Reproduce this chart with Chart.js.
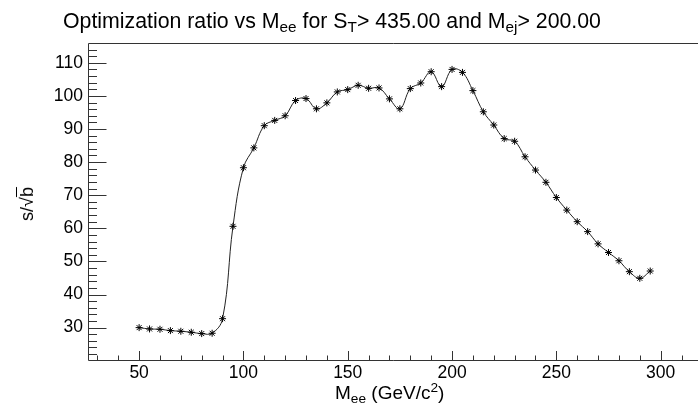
<!DOCTYPE html>
<html>
<head>
<meta charset="utf-8">
<script src="https://cdn.jsdelivr.net/npm/chart.js@4/dist/chart.umd.min.js"></script>
<style>
  html, body { margin: 0; padding: 0; background: #fff; overflow: hidden; }
  #wrap { position: relative; width: 698px; height: 409px; font-family: "Liberation Sans", Arial, sans-serif; color: #000; }
  #wrap canvas { position: absolute; left: 0; top: 0; }
  .lbl { position: absolute; white-space: nowrap; line-height: 1; }
  .lbl sub { font-size: 72%; vertical-align: -0.28em; line-height: 0; }
  .lbl sup { font-size: 72%; vertical-align: 0.5em; line-height: 0; }
  #title { left: 63px; top: 11px; font-size: 21.3px; }
  #ytitle { left: 27px; top: 204px; font-size: 18px; transform: translate(-50%, -50%) rotate(-90deg); }
  #xtitle { left: 335px; top: 383px; font-size: 19px; }
  .ovl { text-decoration: overline; }
</style>
</head>
<body>
<div id="wrap">
  <canvas id="c" width="698" height="409"></canvas>
  <div class="lbl" id="title">Optimization ratio vs M<sub>ee</sub> for S<sub>T</sub>&gt; 435.00 and M<sub>ej</sub>&gt; 200.00</div>
  <div class="lbl" id="ytitle">s/√<span class="ovl">b</span></div>
  <div class="lbl" id="xtitle">M<sub>ee</sub> (GeV/c<sup>2</sup>)</div>
</div>
<script>
// M_ee cut values (GeV/c^2)
const mee = [50, 55, 60, 65, 70, 75, 80, 85, 90, 95,
             100, 105, 110, 115, 120, 125, 130, 135, 140, 145,
             150, 155, 160, 165, 170, 175, 180, 185, 190, 195,
             200, 205, 210, 215, 220, 225, 230, 235, 240, 245,
             250, 255, 260, 265, 270, 275, 280, 285, 290, 295];
// s/sqrt(b)
const ratio = [30.0, 29.6, 29.5, 29.1, 28.9, 28.6, 28.2, 28.3, 32.7, 60.6,
               78.3, 84.3, 91.0, 92.6, 94.0, 98.6, 99.2, 96.1, 97.9, 101.2,
               101.9, 103.2, 102.3, 102.4, 99.1, 96.1, 102.2, 103.9, 107.3, 102.8,
               108.0, 107.1, 101.6, 95.2, 91.2, 87.1, 86.3, 81.6, 77.6, 73.9,
               69.3, 65.5, 62.0, 59.0, 55.3, 52.7, 50.2, 46.9, 44.9, 47.1];

const xTicks = [50, 100, 150, 200, 250, 300];
const yTicks = [30, 40, 50, 60, 70, 80, 90, 100, 110];
const xMinorStep = 10;
const yMinorStep = 2;

// ROOT-like frame with ticks drawn inside the pad
const rootFrame = {
  id: "rootFrame",
  afterDatasetsDraw(chart){
    const { ctx, chartArea: a, scales: { x, y } } = chart;
    ctx.save();
    ctx.strokeStyle = "#333";
    ctx.lineWidth = 1;
    ctx.beginPath();
    ctx.moveTo(a.right + 10, a.top + 0.5);
    ctx.lineTo(a.left + 0.5, a.top + 0.5);
    ctx.lineTo(a.left + 0.5, a.bottom + 0.5);
    ctx.lineTo(a.right + 10, a.bottom + 0.5);
    ctx.stroke();

    ctx.beginPath();
    for (let v = Math.ceil(x.min / xMinorStep) * xMinorStep; v <= x.max; v += xMinorStep){
      const px = Math.round(x.getPixelForValue(v)) + 0.5;
      const len = xTicks.includes(v) ? 9 : 4.5;
      ctx.moveTo(px, a.bottom);
      ctx.lineTo(px, a.bottom - len);
    }
    for (let v = Math.ceil(y.min / yMinorStep) * yMinorStep; v <= y.max; v += yMinorStep){
      const py = Math.round(y.getPixelForValue(v)) + 0.5;
      const len = yTicks.includes(v) ? 18.5 : 9;
      ctx.moveTo(a.left, py);
      ctx.lineTo(a.left + len, py);
    }
    ctx.stroke();
    ctx.restore();
  }
};

const tickFont = { family: "Liberation Sans", size: 17.5 };

new Chart(document.getElementById("c").getContext("2d"), {
  type: "line",
  data: {
    datasets: [{
      data: mee.map((m, i) => ({ x: m, y: ratio[i] })),
      borderColor: "#222",
      borderWidth: 1,
      tension: 0.4,
      pointStyle: "star",
      pointRadius: 3.5,
      pointBorderColor: "#000",
      pointBorderWidth: 1,
      pointBackgroundColor: "#000",
      fill: false
    }]
  },
  options: {
    responsive: false,
    animation: false,
    layout: { padding: { top: 43, right: 0, left: 0, bottom: 0 } },
    plugins: { legend: { display: false }, tooltip: { enabled: false }, title: { display: false } },
    scales: {
      x: {
        type: "linear",
        min: 25.5,
        max: 315.5,
        afterFit: s => { s.height = 49; },
        afterBuildTicks: s => { s.ticks = xTicks.map(v => ({ value: v })); },
        grid: { display: false, drawTicks: false },
        border: { display: false },
        ticks: { font: tickFont, color: "#000", padding: 3, maxRotation: 0 }
      },
      y: {
        type: "linear",
        min: 20.22,
        max: 115.98,
        afterFit: s => { s.width = 88; },
        afterBuildTicks: s => { s.ticks = yTicks.map(v => ({ value: v })); },
        grid: { display: false, drawTicks: false },
        border: { display: false },
        ticks: { font: tickFont, color: "#000", padding: 5 }
      }
    }
  },
  plugins: [rootFrame]
});
</script>
</body>
</html>
